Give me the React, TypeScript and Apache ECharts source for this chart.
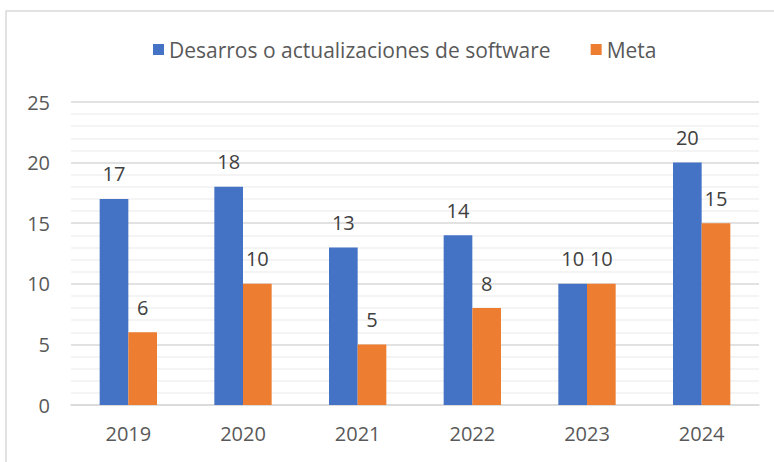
import React, { useEffect, useRef } from "react";
import * as echarts from "echarts";

const categories = ["2019", "2020", "2021", "2022", "2023", "2024"];
const desarrollos = [17, 18, 13, 14, 10, 20];
const meta = [6, 10, 5, 8, 10, 15];
const seriesNames = ["Desarros o actualizaciones de software", "Meta"];

const FONT = "'Open Sans', 'Liberation Sans', sans-serif";

export default function App() {
  const ref = useRef<HTMLDivElement>(null);
  useEffect(() => {
    document.body.style.margin = "0";
    const chart = echarts.init(ref.current!, null, { renderer: "svg" });
    const label = {
      show: true,
      position: "top",
      distance: 15,
      color: "#404040",
      fontSize: 20,
      fontFamily: FONT,
    };
    chart.setOption({
      animation: false,
      backgroundColor: "#ffffff",
      textStyle: { fontFamily: FONT },
      graphic: [
        {
          type: "rect",
          shape: { x: 6, y: 11, width: 900, height: 600 },
          style: { fill: "none", stroke: "#d9d9d9", lineWidth: 1.5 },
          silent: true,
        },
      ],
      legend: {
        left: 148,
        top: 34,
        itemWidth: 11,
        itemHeight: 11,
        itemGap: 40,
        icon: "rect",
        textStyle: { color: "#595959", fontSize: 21, fontFamily: FONT },
        data: seriesNames,
      },
      grid: { left: 71, right: 15, top: 102, bottom: 57 },
      xAxis: {
        type: "category",
        data: categories,
        axisLine: { lineStyle: { color: "#d9d9d9", width: 1.5 } },
        axisTick: { show: false },
        axisLabel: { color: "#595959", fontSize: 20, margin: 18, fontFamily: FONT },
      },
      yAxis: {
        type: "value",
        min: 0,
        max: 25,
        interval: 5,
        axisLine: { show: false },
        axisTick: { show: false },
        axisLabel: { color: "#595959", fontSize: 20, margin: 21, fontFamily: FONT },
        splitLine: { lineStyle: { color: "#d9d9d9", width: 1.5 } },
        minorTick: { show: false, splitNumber: 5 },
        minorSplitLine: { show: true, lineStyle: { color: "#f0f0f0", width: 1.5 } },
      },
      series: [
        {
          name: seriesNames[0],
          type: "bar",
          data: desarrollos,
          itemStyle: { color: "#4472C4" },
          barGap: "0%",
          barCategoryGap: "50%",
          label,
        },
        {
          name: seriesNames[1],
          type: "bar",
          data: meta,
          itemStyle: { color: "#ED7D31" },
          barGap: "0%",
          barCategoryGap: "50%",
          label,
        },
      ],
    });
    return () => chart.dispose();
  }, []);
  return <div ref={ref} style={{ width: 774, height: 462 }} />;
}
